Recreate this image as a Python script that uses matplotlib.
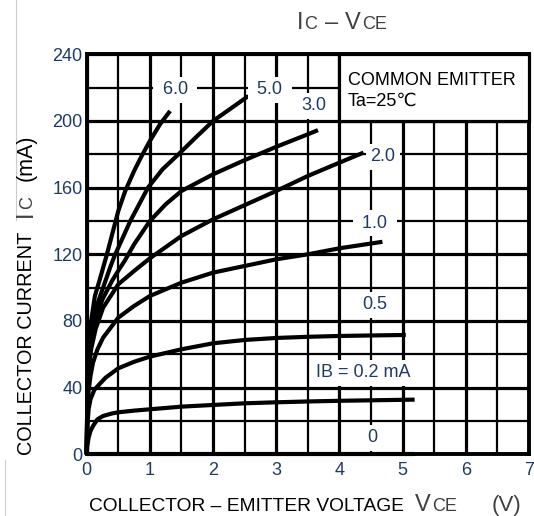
import matplotlib
matplotlib.use("Agg")
import matplotlib.pyplot as plt
from matplotlib.patches import Rectangle
from matplotlib.lines import Line2D

plt.rcParams["font.family"] = ["Liberation Sans", "DejaVu Sans"]

W, H = 534, 516
NAVY = "#1F3A68"
GREY = "#404040"

# IC-VCE curves (VCE in V, IC in mA), one per base current
VCE_60 = [0, 0.01, 0.03, 0.07, 0.13, 0.2, 0.26, 0.32, 0.41, 0.5, 0.61, 0.75, 0.87, 1.0, 1.16, 1.32]
IC_60 = [0, 38, 62, 80, 95, 104, 112, 120, 133, 146, 158, 170, 179, 188, 198, 206]

VCE_50 = [0, 0.01, 0.03, 0.07, 0.14, 0.25, 0.37, 0.44, 0.5, 0.69, 0.97, 1.2, 1.48, 1.75, 2.0, 2.3, 2.56]
IC_50 = [0, 36, 58, 73, 87, 99, 112, 119, 124, 140, 160, 171, 181, 191, 200, 208, 215]

VCE_30 = [0, 0.01, 0.03, 0.07, 0.14, 0.25, 0.4, 0.53, 0.6, 0.75, 1.0, 1.25, 1.5, 2.0, 2.5, 3.0, 3.5, 3.66]
IC_30 = [0, 34, 54, 68, 81, 93, 104, 112, 116, 126, 140, 150, 158, 168, 176.5, 184.5, 192, 194.5]

VCE_20 = [0, 0.01, 0.03, 0.07, 0.14, 0.26, 0.5, 0.75, 1.0, 1.5, 2.0, 2.5, 3.0, 3.5, 4.0, 4.38]
IC_20 = [0, 32, 50, 63, 75, 88, 102, 110, 117.6, 131, 141, 149.5, 158, 167, 175, 181]

VCE_10 = [0, 0.01, 0.03, 0.06, 0.1, 0.17, 0.26, 0.38, 0.5, 0.75, 1.0, 1.5, 2.0, 2.5, 3.0, 3.5, 4.0, 4.68]
IC_10 = [0, 24, 38, 47, 55, 63, 70, 76, 82, 89, 95, 103, 109, 113, 117, 120, 123.6, 127.5]

VCE_05 = [0, 0.01, 0.03, 0.06, 0.12, 0.2, 0.3, 0.5, 0.75, 1.0, 1.5, 2.0, 2.5, 3.0, 3.5, 4.0, 4.5, 5.05]
IC_05 = [0, 16, 27, 33, 38.6, 42, 46, 51.6, 55.5, 58.6, 63, 66.6, 68.6, 69.8, 70.5, 71, 71.3, 71.6]

VCE_02 = [0, 0.01, 0.03, 0.06, 0.1, 0.17, 0.26, 0.4, 0.5, 0.75, 1.0, 1.5, 2.0, 2.5, 3.0, 3.5, 4.0, 4.5, 5.19]
IC_02 = [0, 5, 10, 14, 17, 21, 23, 24.5, 25.2, 26.2, 27, 28.6, 29.6, 30.6, 31.2, 31.7, 32.1, 32.4, 32.8]

VCE_00 = [0, 5.2]
IC_00 = [0, 0]

CURVES = [(VCE_60, IC_60), (VCE_50, IC_50), (VCE_30, IC_30), (VCE_20, IC_20),
          (VCE_10, IC_10), (VCE_05, IC_05), (VCE_02, IC_02), (VCE_00, IC_00)]

IB_LABELS = [" 6.0 ", " 5.0 ", "3.0", "2.0", " 1.0 ", "0.5", "IB = 0.2 mA", "0"]
LABEL_X = [1.40, 2.90, 3.59, 4.69, 4.56, 4.56, 4.37, 4.52]
LABEL_Y = [218.6, 218.6, 209, 178.5, 138.6, 89.6, 49, 9.8]

X_TICKS = [0, 1, 2, 3, 4, 5, 6, 7]
Y_TICKS = [0, 40, 80, 120, 160, 200, 240]


def fx(px):
    return px / W


def fy(py):
    return 1 - py / H


fig = plt.figure(figsize=(W / 100, H / 100), dpi=100)
ax = fig.add_axes([fx(86.7), fy(454.3), (529 - 86.7) / W, (454.3 - 54.3) / H])

ax.set_xlim(0, 7)
ax.set_ylim(0, 240)
ax.set_xticks(X_TICKS)
ax.set_yticks(Y_TICKS)
ax.set_xticks([x + 0.5 for x in X_TICKS[:-1]], minor=True)
ax.set_yticks([y + 20 for y in Y_TICKS[:-1]], minor=True)
ax.tick_params(which="both", length=0)
ax.tick_params(axis="x", pad=5.5, labelsize=13, labelcolor=NAVY)
ax.tick_params(axis="y", pad=3, labelsize=13, labelcolor=NAVY)
ax.set_axisbelow(True)
ax.grid(which="major", color="black", lw=2.3)
ax.grid(which="minor", color="black", lw=1.6)
for s in ax.spines.values():
    s.set_linewidth(2.8)

for v, i in CURVES:
    ax.plot(v, i, color="black", lw=3.0, solid_capstyle="butt", zorder=3, clip_on=False)

for lab, x, y in zip(IB_LABELS, LABEL_X, LABEL_Y):
    ax.text(x, y, lab, ha="center", va="center", fontsize=13, color=NAVY, zorder=4,
            bbox=dict(boxstyle="square,pad=0.25", fc="white", ec="none"))

# condition box in the top-right corner
ax.add_patch(Rectangle((4, 200), 3, 40, fc="white", ec="black", lw=2.3, zorder=4, clip_on=False))
ax.text(4.13, 221.5, "COMMON EMITTER", fontsize=13, va="baseline", zorder=5)
ax.text(4.13, 209.1, "Ta=25℃", fontsize=13, va="baseline", zorder=5)

# title  IC - VCE
fig.text(fx(297), fy(29), "I", fontsize=17, color=GREY, va="baseline")
fig.text(fx(304), fy(29), "C", fontsize=13, color=GREY, va="baseline")
fig.text(fx(325), fy(29), "–", fontsize=17, color=GREY, va="baseline")
fig.text(fx(345), fy(29), "V", fontsize=17, color=GREY, va="baseline")
fig.text(fx(362), fy(29), "CE", fontsize=13, color=GREY, va="baseline")

# x axis label
fig.text(fx(89), fy(511), "COLLECTOR – EMITTER VOLTAGE", fontsize=13.8, va="baseline")
fig.text(fx(415), fy(511), "V", fontsize=17, color=GREY, va="baseline")
fig.text(fx(432), fy(511), "CE", fontsize=13, color=GREY, va="baseline")
fig.text(fx(492), fy(511), "(V)", fontsize=16, color=GREY, va="baseline")

# y axis label (rotated, reads bottom to top)
rot = dict(rotation=90, rotation_mode="anchor", ha="left", va="baseline")
fig.text(fx(32), fy(455), "COLLECTOR CURRENT", fontsize=14.3, **rot)
fig.text(fx(32), fy(217), "I", fontsize=17, color=GREY, **rot)
fig.text(fx(32), fy(209), "C", fontsize=13, color=GREY, **rot)
fig.text(fx(32), fy(181), "(mA)", fontsize=15.5, **rot)

# faint crop edges from the original screenshot
fig.add_artist(Line2D([fx(16), fx(16)], [fy(0), fy(220)], color="#cccccc", lw=0.8))
fig.add_artist(Line2D([fx(5), fx(5)], [fy(460), fy(516)], color="#cccccc", lw=0.8))

fig.savefig("out.png", dpi=100)
